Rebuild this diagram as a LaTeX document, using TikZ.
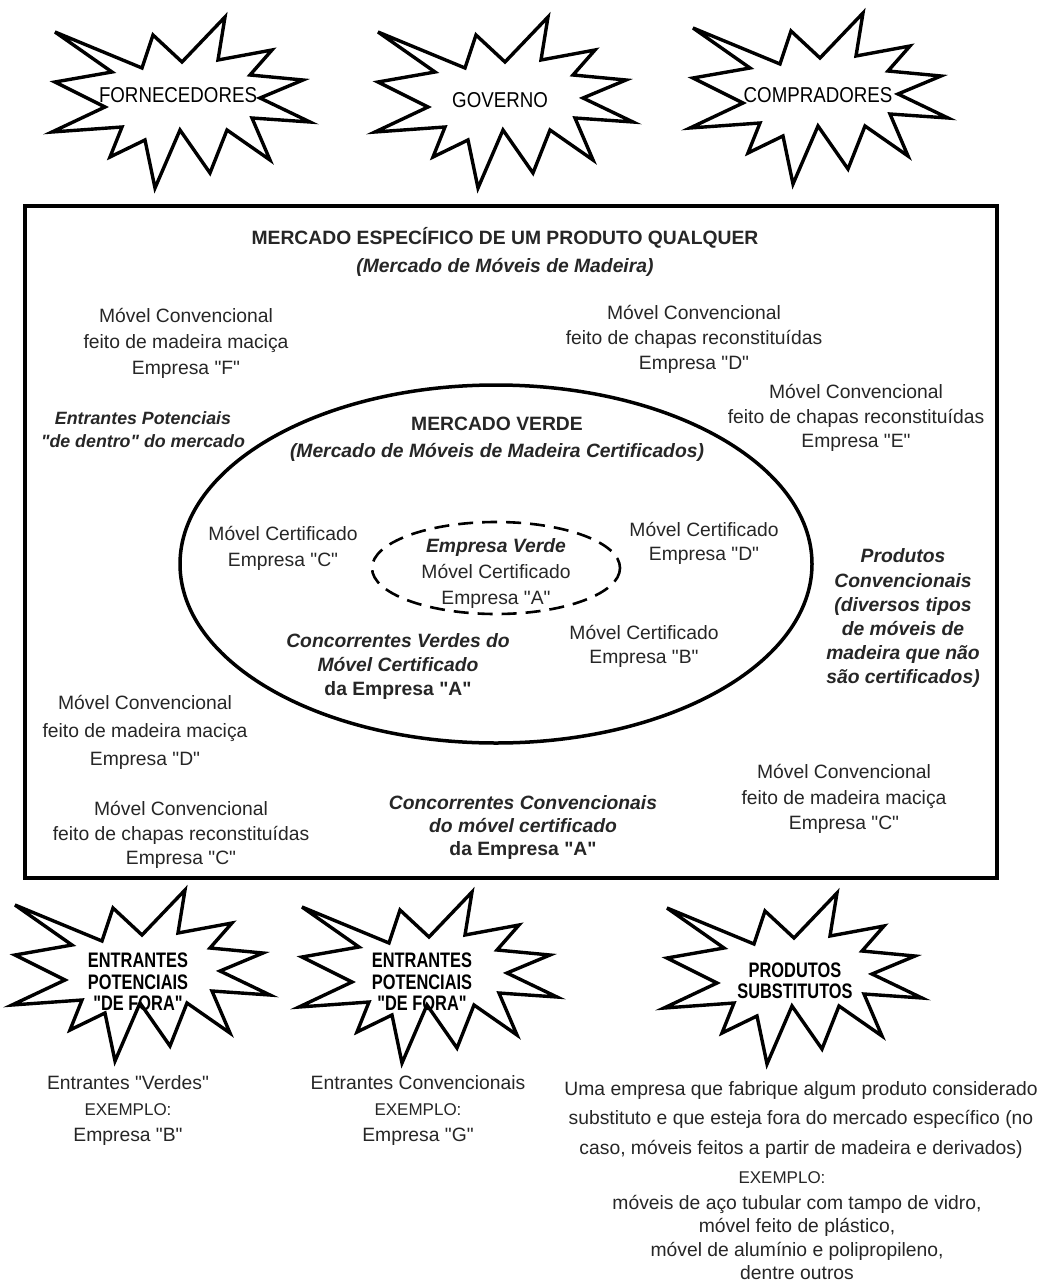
\documentclass[tikz,border=0pt]{standalone}
\usepackage{fontspec}
\setmainfont{Liberation Sans}[Ligatures=TeXOff]
\newfontfamily\condreg[FakeStretch=0.87]{Liberation Sans}
\newfontfamily\condbold[FakeStretch=0.78]{Liberation Sans}
\begin{document}
\begin{tikzpicture}[x=1pt,y=-1pt,
  lbl/.style={align=center, inner sep=0pt, text=black!85, yshift=-5pt,
    execute at begin node=\strut, execute at end node=\strut},
  reg/.style={lbl, font=\fontsize{19.3}{#1}\selectfont},
  reg/.default=25.5,
  bold/.style={lbl, font=\fontsize{19.3}{#1}\selectfont\bfseries},
  bold/.default=25.5,
  boldit/.style={lbl, font=\fontsize{19.3}{#1}\selectfont\bfseries\itshape},
  boldit/.default=25.5,
  starlabel/.style={lbl, yshift=-1pt, text=black, font=\condreg\fontsize{21.5}{24}\selectfont},
  starlabelb/.style={lbl, yshift=-4pt, text=black, font=\condbold\bfseries\fontsize{21}{21.5}\selectfont},
  starline/.style={line width=3.4pt, line join=miter, miter limit=6, fill=white},
  burst/.pic={
    \draw[starline] (-127,-68) -- (-40,-32) -- (-29,-65) -- (0,-38) -- (43,-83)
      -- (36,-40) -- (90,-50) -- (68,-25) -- (121,-20) -- (78,-2) -- (128,22)
      -- (70,18) -- (88,60) -- (45,30) -- (28,73) -- (-2,30) -- (-27,88)
      -- (-37,40) -- (-72,57) -- (-60,27) -- (-130,32) -- (-77,7) -- (-127,-18)
      -- (-70,-28) -- cycle;
  }
]
\fill[white] (0,0) rectangle (1048,1287);
\useasboundingbox (0,0) rectangle (1048,1287);

% outside forces, top row
\pic at (182,100) {burst};
\pic at (505,100) {burst};
\pic at (820,96) {burst};
\node[starlabel] (forn) at (178,92) {FORNECEDORES};
\node[starlabel] (gov) at (500,97) {GOVERNO};
\node[starlabel] (comp) at (818,92) {COMPRADORES};

% the specific market
\draw[line width=4.5pt] (25,206) rectangle (997,878);
\node[bold=28] (title) at (505,249) {MERCADO ESPECÍFICO DE UM PRODUTO QUALQUER\\
  \itshape (Mercado de Móveis de Madeira)};

% green market and the green firm
\draw[line width=3.5pt] (496,564) ellipse [x radius=316, y radius=179];
\draw[line width=2.6pt, dash pattern=on 15pt off 9pt] (496,568) ellipse [x radius=124, y radius=46];

\node[bold=27] (verde) at (497,436) {MERCADO VERDE\\
  \itshape (Mercado de Móveis de Madeira Certificados)};

\node[reg=26] (certC) at (283,545) {Móvel Certificado\\Empresa "C"};
\node[reg=26] (firmA) at (496,570) {\bfseries\itshape Empresa Verde\\Móvel Certificado\\Empresa "A"};
\node[reg=24] (certD) at (704,540) {Móvel Certificado\\Empresa "D"};
\node[reg=23.5] (certB) at (644,643) {Móvel Certificado\\Empresa "B"};
\node[bold=24] (concV) at (398,663) {\itshape Concorrentes Verdes do\\
  \itshape Móvel Certificado\\da Empresa "A"};

% conventional furniture around the green market
\node[reg=26] (convF) at (186,340) {Móvel Convencional\\feito de madeira maciça\\Empresa "F"};
\node[lbl, font=\fontsize{17.8}{23}\selectfont\bfseries\itshape] (entrD) at (143,428) {Entrantes Potenciais\\"de dentro" do mercado};
\node[reg=25] (convDtop) at (694,336) {Móvel Convencional\\feito de chapas reconstituídas\\Empresa "D"};
\node[reg=24.5] (convE) at (856,415) {Móvel Convencional\\feito de chapas reconstituídas\\Empresa "E"};
\node[boldit=24.2] (prodconv) at (903,615) {Produtos\\Convencionais\\(diversos tipos\\de móveis de\\madeira que não\\são certificados)};
\node[reg=28] (convDlow) at (145,730) {Móvel Convencional\\feito de madeira maciça\\Empresa "D"};
\node[reg=24.5] (convClow) at (181,832) {Móvel Convencional\\feito de chapas reconstituídas\\Empresa "C"};
\node[bold=23] (concC) at (523,824) {\itshape Concorrentes Convencionais\\
  \itshape do móvel certificado\\da Empresa "A"};
\node[reg=25.5] (convCright) at (844,796) {Móvel Convencional\\feito de madeira maciça\\Empresa "C"};

% outside forces, bottom row
\pic at (142,973) {burst};
\pic at (429,975) {burst};
\pic at (794,976) {burst};
\node[starlabelb] (entr1) at (138,976) {ENTRANTES\\POTENCIAIS\\"DE FORA"};
\node[starlabelb] (entr2) at (422,976) {ENTRANTES\\POTENCIAIS\\"DE FORA"};
\node[starlabelb] (subst) at (795,975) {PRODUTOS\\SUBSTITUTOS};

\node[reg=26] (exV) at (128,1107) {Entrantes "Verdes"\\{\fontsize{17}{20}\selectfont EXEMPLO:}\\Empresa "B"};
\node[reg=26] (exC) at (418,1107) {Entrantes Convencionais\\{\fontsize{17}{20}\selectfont EXEMPLO:}\\Empresa "G"};
\node[reg=29.5] (exS) at (801,1117) {Uma empresa que fabrique algum produto considerado\\
  substituto e que esteja fora do mercado específico (no\\
  caso, móveis feitos a partir de madeira e derivados)};
\node[lbl, font=\fontsize{17}{20}\selectfont] (exS2) at (782,1174) {EXEMPLO:};
\node[reg=23.3] (exS3) at (797,1236) {móveis de aço tubular com tampo de vidro,\\
  móvel feito de plástico,\\móvel de alumínio e polipropileno,\\dentre outros};
\end{tikzpicture}
\end{document}
